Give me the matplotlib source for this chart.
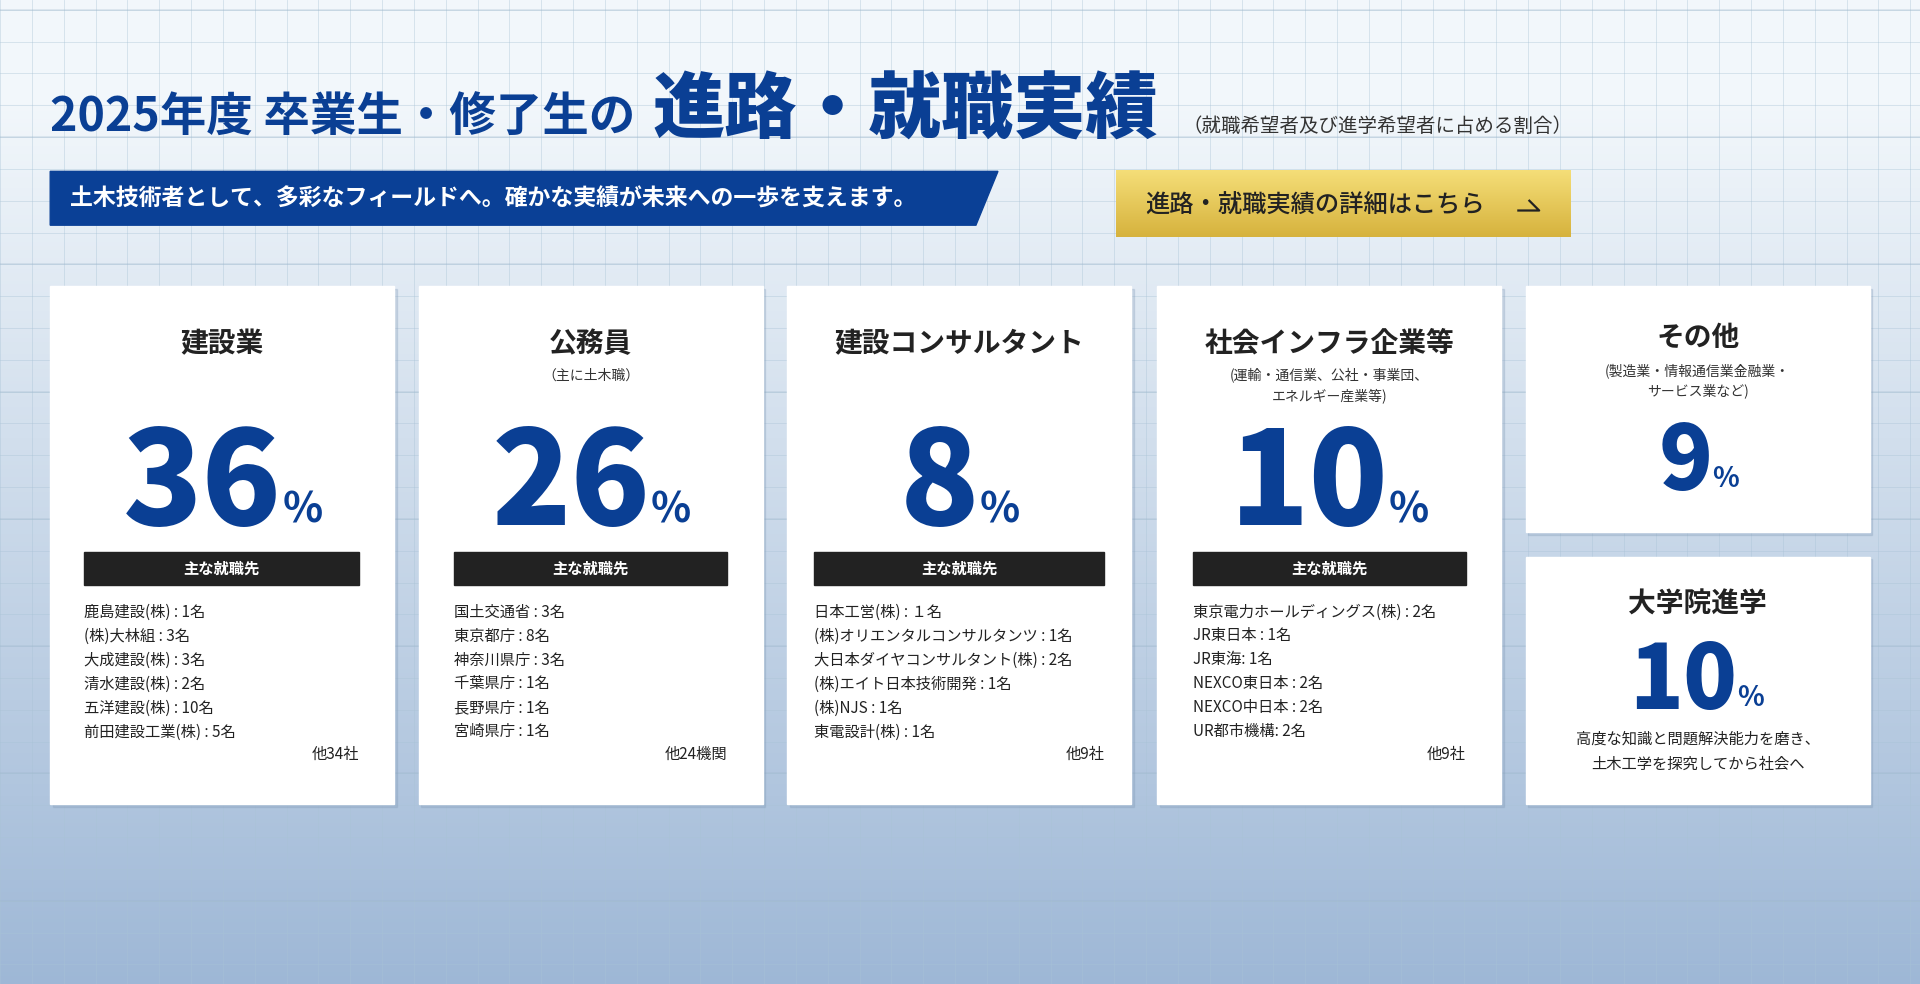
import matplotlib
matplotlib.use("Agg")
import matplotlib.pyplot as plt
import numpy as np
from matplotlib.patches import Rectangle, Polygon

plt.rcParams['font.family'] = ['Noto Sans CJK JP', 'DejaVu Sans']

categories = ["建設業", "公務員", "建設コンサルタント", "社会インフラ企業等"]
subtitles = ["", "（主に土木職）", "", "(運輸・通信業、公社・事業団、\nエネルギー産業等)"]
percents = [36, 26, 8, 10]
employers = [
    ["鹿島建設(株) : 1名", "(株)大林組 : 3名", "大成建設(株) : 3名", "清水建設(株) : 2名", "五洋建設(株) : 10名", "前田建設工業(株) : 5名"],
    ["国土交通省 : 3名", "東京都庁 : 8名", "神奈川県庁 : 3名", "千葉県庁 : 1名", "長野県庁 : 1名", "宮崎県庁 : 1名"],
    ["日本工営(株) : １名", "(株)オリエンタルコンサルタンツ : 1名", "大日本ダイヤコンサルタント(株) : 2名", "(株)エイト日本技術開発 : 1名", "(株)NJS : 1名", "東電設計(株) : 1名"],
    ["東京電力ホールディングス(株) : 2名", "JR東日本 : 1名", "JR東海: 1名", "NEXCO東日本 : 2名", "NEXCO中日本 : 2名", "UR都市機構: 2名"],
]
others = ["他34社", "他24機関", "他9社", "他9社"]
other_label, other_sub, other_pct = "その他", "(製造業・情報通信業金融業・\nサービス業など)", 9
grad_label, grad_pct, grad_note = "大学院進学", 10, "高度な知識と問題解決能力を磨き、\n土木工学を探究してから社会へ"

W, H = 1568, 804
fig = plt.figure(figsize=(19.2, 9.84), dpi=100)
ax = fig.add_axes([0, 0, 1, 1])
ax.set_xlim(0, W); ax.set_ylim(H, 0); ax.axis('off')
renderer = fig.canvas.get_renderer()

def right_edge(txt):
    bb = txt.get_window_extent(renderer)
    return ax.transData.inverted().transform((bb.x1, bb.y0))[0]

# background gradient
t = np.linspace(0, 1, 256)[:, None]
c0 = np.array([0.95, 0.97, 0.985]); c1 = np.array([0.62, 0.72, 0.84])
tt = np.clip((t - 0.1) / 0.9, 0, 1)
img = c0 * (1 - tt[..., None]) + c1 * tt[..., None]
img = np.repeat(img, 2, axis=1)
ax.imshow(img, extent=[0, W, H, 0], aspect='auto', zorder=0)
for x in np.arange(0, W, 26):
    ax.plot([x, x], [0, H], color='#a9c3d6', lw=0.6, alpha=0.45, zorder=1)
for y in np.arange(8, H, 26):
    ax.plot([0, W], [y, y], color='#a9c3d6', lw=0.6, alpha=0.45, zorder=1)
for y in np.arange(8, H, 104):
    ax.plot([0, W], [y, y], color='#9cb5cb', lw=1.2, alpha=0.3, zorder=1)

blue = '#0a3f94'
t1 = ax.text(41, 108, "2025年度 卒業生・修了生の", fontsize=33.5, fontweight='bold', color=blue, va='baseline', zorder=3)
fig.canvas.draw()
t2 = ax.text(right_edge(t1) + 14, 108, "進路・就職実績", fontsize=52, fontweight='black', color=blue, va='baseline', zorder=3)
ax.text(966, 108, "（就職希望者及び進学希望者に占める割合）", fontsize=14, color='#333333', va='baseline', zorder=3)

ax.add_patch(Polygon([(41, 140), (815, 140), (797, 184), (41, 184)], closed=True, color='#0a4096', zorder=2))
ax.text(57, 163, "土木技術者として、多彩なフィールドへ。確かな実績が未来への一歩を支えます。", fontsize=16.5, fontweight='bold', color='white', va='center', zorder=3)

gimg = np.linspace(0, 1, 64)[:, None, None] * (np.array([0.84, 0.70, 0.24]) - np.array([0.96, 0.87, 0.47])) + np.array([0.96, 0.87, 0.47])
gimg = np.repeat(gimg, 2, axis=1)
ax.imshow(gimg, extent=[911, 1282, 194, 140], aspect='auto', zorder=2)
ax.text(935, 168, "進路・就職実績の詳細はこちら", fontsize=17.5, fontweight='medium', color='#222222', va='center', zorder=3)
ax.plot([1240, 1257, 1249], [172, 172, 164], color='#222222', lw=1.6, zorder=3)

xs = [41, 342, 643, 945]
bars = [(69, 293), (371, 594), (665, 902), (974, 1197)]
cw = 281

def pct(cx, base, value, size, psize, gap):
    n = ax.text(cx, base, str(value), fontsize=size, fontweight='black', color=blue, ha='center', va='baseline', zorder=3)
    fig.canvas.draw()
    ax.text(right_edge(n) + gap, base - 2, "%", fontsize=psize, fontweight='bold', color=blue, ha='left', va='baseline', zorder=3)

for i in range(4):
    x0 = xs[i]
    ax.add_patch(Rectangle((x0 + 2, 236), cw, 423, color='#7f98b5', alpha=0.25, zorder=2))
    ax.add_patch(Rectangle((x0, 234), cw, 423, color='white', zorder=2))
    cx = x0 + cw / 2
    ax.text(cx, 281, categories[i], fontsize=20, fontweight='bold', color='#222222', ha='center', va='center', zorder=3)
    if subtitles[i]:
        ax.text(cx, 307 if i == 1 else 315, subtitles[i], fontsize=10, color='#333333', ha='center', va='center', linespacing=1.5, zorder=3)
    pct(cx - 16, 429, percents[i], 94, 30, 0)
    b0, b1 = bars[i]
    ax.add_patch(Rectangle((b0, 451), b1 - b0, 27, color='#222222', zorder=3))
    ax.text((b0 + b1) / 2, 465, "主な就職先", fontsize=11, fontweight='bold', color='white', ha='center', va='center', zorder=4)
    for j, e in enumerate(employers[i]):
        ax.text(b0, 500 + j * 19.6, e, fontsize=11, color='#222222', va='center', zorder=3)
    ax.text(b1, 616, others[i], fontsize=11, color='#222222', ha='right', va='center', zorder=3)

x0 = 1246; cx = x0 + cw / 2
for (y0, h) in [(234, 201), (455, 202)]:
    ax.add_patch(Rectangle((x0 + 2, y0 + 2), cw, h, color='#7f98b5', alpha=0.25, zorder=2))
    ax.add_patch(Rectangle((x0, y0), cw, h, color='white', zorder=2))
ax.text(cx, 276, other_label, fontsize=20, fontweight='bold', color='#222222', ha='center', va='center', zorder=3)
ax.text(cx, 311, other_sub, fontsize=10, color='#333333', ha='center', va='center', linespacing=1.5, zorder=3)
pct(cx - 10, 400, other_pct, 64, 20, 0)
ax.text(cx, 494, grad_label, fontsize=20, fontweight='bold', color='#222222', ha='center', va='center', zorder=3)
pct(cx - 12, 579, grad_pct, 64, 20, 0)
ax.text(cx, 614, grad_note, fontsize=11, color='#222222', ha='center', va='center', linespacing=1.6, zorder=3)

fig.savefig("out.png", dpi=100)
